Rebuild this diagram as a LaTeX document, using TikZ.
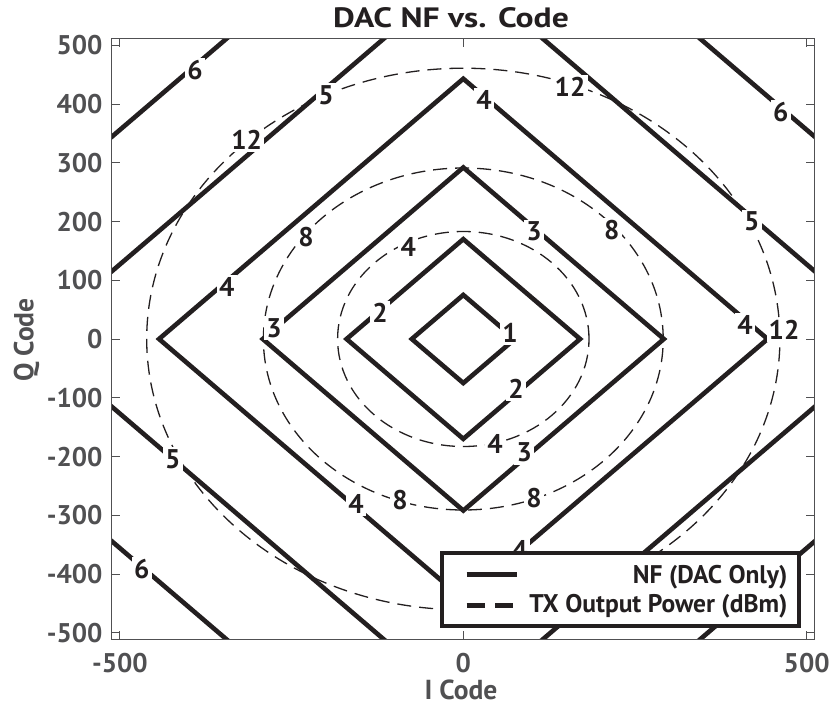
\documentclass[tikz,border=0pt]{standalone}
\usepackage{fontspec}
\setmainfont{PT Sans}[BoldFont={PT Sans Bold}]
\definecolor{ink}{RGB}{35,31,32}
\definecolor{axgray}{RGB}{80,80,82}
\begin{document}
\begin{tikzpicture}[x=1pt,y=-1pt,
  nf/.style={draw=ink,line width=4.6pt,line join=miter},
  txp/.style={draw=ink,line width=1.3pt,dash pattern=on 14pt off 8pt},
  clab/.style={fill=white,inner sep=2.2pt,text=ink,font=\fontsize{27}{28}\selectfont\bfseries},
  ticklab/.style={text=axgray,inner sep=0pt,text depth=0pt,font=\fontsize{27}{28}\selectfont\bfseries},
  axline/.style={draw=axgray,line width=1pt},
  legtext/.style={text=ink,inner sep=0pt,font=\fontsize{25.5}{26}\selectfont\bfseries}]
\useasboundingbox (0,0) rectangle (832,706);
% data area
\begin{scope}[shift={(463.3pt,-339pt)},x=0.6868pt,y=0.5875pt]
  \begin{scope}
    \clip (-512,-511) rectangle (511,511);
    \foreach \c in {75,170,292,443,627,856}
      \draw[nf] (\c,0) -- (0,\c) -- (-\c,0) -- (0,-\c) -- cycle;
    \draw[txp] (0,0) ellipse [x radius=125.7pt, y radius=107.5pt];
    \draw[txp] (0,0) ellipse [x radius=199.9pt, y radius=171.0pt];
    \draw[txp] (0,0) ellipse [x radius=316.6pt, y radius=270.8pt];
  \end{scope}
  \draw[axline] (-512,-511) rectangle (511,511);
  \foreach \q in {-500,-400,...,500} {
    \draw[axline] (-512,\q) -- ++(8pt,0);
    \draw[axline] (511,\q) -- ++(-8pt,0);
    \node[ticklab,anchor=east] (yt\q) at (-512,\q) [xshift=-9pt] {\q};
  }
  \foreach \i in {-500,0,500} {
    \draw[axline] (\i,-511) -- ++(0,8pt);
    \draw[axline] (\i,511) -- ++(0,-8pt);
    \node[ticklab] (xt\i) at (\i,-511) [yshift=-23.3pt] {\i};
  }
\end{scope}
% contour labels (NF)
\node[clab] (n6a) at (195,70) {6};
\node[clab] (n5a) at (326,95) {5};
\node[clab] (n4a) at (226.7,286.7) {4};
\node[clab] (n3a) at (274,328.3) {3};
\node[clab] (n2a) at (380,313.3) {2};
\node[clab] (n1a) at (510,333.3) {1};
\node[clab] (n4b) at (484,100) {4};
\node[clab] (n3b) at (534,231.7) {3};
\node[clab] (n5b) at (751.7,221.7) {5};
\node[clab] (n6b) at (780.7,111.7) {6};
\node[clab] (n4c) at (745,325) {4};
\node[clab] (n2b) at (516,389.3) {2};
\node[clab] (n3c) at (524.3,452.7) {3};
\node[clab] (n4d) at (520,550) {4};
\node[clab] (n5c) at (172.7,459.3) {5};
\node[clab] (n6c) at (141.7,568.7) {6};
\node[clab] (n4e) at (356,504.3) {4};
% contour labels (TX power)
\node[clab] (p12a) at (246.7,140) {12};
\node[clab] (p12b) at (570,87.3) {12};
\node[clab] (p12c) at (784,330) {12};
\node[clab] (p8a) at (306,236.7) {8};
\node[clab] (p8b) at (611.7,230) {8};
\node[clab] (p8c) at (400,500) {8};
\node[clab] (p8d) at (534,497.7) {8};
\node[clab] (p4a) at (408.3,246.7) {4};
\node[clab] (p4b) at (495,444.3) {4};
% titles
\node[text=ink,inner sep=0pt,anchor=base,font=\fontsize{28}{29}\selectfont\bfseries] (title) at (451,27.3) {\scalebox{1.2}[1]{DAC NF vs. Code}};
\node[ticklab,anchor=base,font=\fontsize{27.5}{28}\selectfont\bfseries] (xlab) at (461,699) {I Code};
\node[ticklab,anchor=base,rotate=90,font=\fontsize{27.5}{28}\selectfont\bfseries] (ylab) at (33.3,340) {Q Code};
% legend
\draw[draw=ink,line width=4pt,fill=white] (441.5,552.5) rectangle (799,626);
\coordinate (ls1) at (466.7,574.3);
\coordinate (le1) at (517,574.3);
\coordinate (ls2) at (466.7,605.3);
\coordinate (le2) at (513.3,605.3);
\draw[ink,line width=4.6pt] (ls1) -- (le1);
\draw[ink,line width=4.6pt,dash pattern=on 18pt off 10.3pt] (ls2) -- (le2);
\node[legtext,anchor=base east] (leg1) at (787.7,583.3) {NF (DAC Only)};
\node[legtext,anchor=base east] (leg2) at (787.7,612.7) {TX Output Power (dBm)};
\end{tikzpicture}
\end{document}
